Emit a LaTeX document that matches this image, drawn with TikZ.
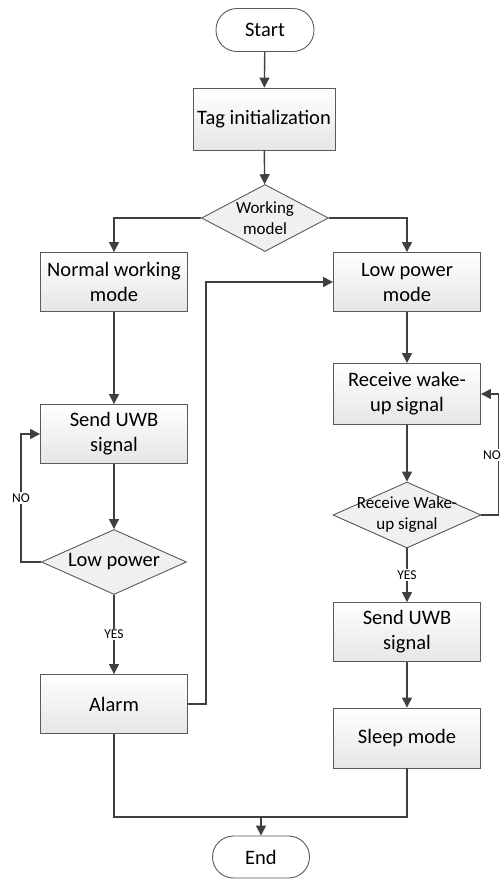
\documentclass[tikz,border=0pt]{standalone}
\usepackage{fontspec}
\setmainfont{Carlito}
\usetikzlibrary{shapes.geometric,arrows.meta}
\definecolor{edge}{HTML}{404040}
\definecolor{bord}{HTML}{5A5A5A}
\tikzset{
  box/.style={rectangle, draw=bord, line width=0.9pt, top color=white, bottom color=black!10,
    minimum width=147pt, minimum height=59pt, inner sep=2pt, align=center, font=\fontsize{20.5}{25}\selectfont},
  dec/.style={diamond, draw=bord, line width=0.9pt, fill=black!6, inner sep=0pt, aspect=2,
    align=center, font=\fontsize{17}{21}\selectfont},
  dectext/.style={align=center, inner sep=0pt, font=\fontsize{17}{21}\selectfont},
  term/.style={rectangle, rounded corners=21pt, draw=bord, line width=0.9pt, fill=white,
    minimum width=98pt, minimum height=43pt, font=\fontsize{20.5}{25}\selectfont},
  conn/.style={draw=edge, line width=1.4pt},
  arr/.style={conn, -{Triangle[length=10pt,width=10pt]}},
  lab/.style={fill=white, inner sep=1.5pt, font=\fontsize{13.5}{16}\selectfont}
}
\begin{document}
\begin{tikzpicture}[x=1pt,y=-1pt]
\useasboundingbox (0,0) rectangle (502,879);
\node[term] (start) at (265,30) {Start};
\node[box, minimum width=142pt, minimum height=62pt] (tag) at (264,119) {Tag initialization};
\node[dec, minimum width=127pt, minimum height=67pt] (wm) at (265,218) {Working\\model};
\node[box] (nwm) at (114,282) {Normal working\\mode};
\node[box] (lpm) at (407,282) {Low power\\mode};
\node[box] (sendL) at (114,434) {Send UWB\\signal};
\node[dec, minimum width=145pt, minimum height=65pt, font=\fontsize{20.5}{25}\selectfont] (lowp) at (114,562) {Low power};
\node[box] (alarm) at (114,704) {Alarm};
\node[box, minimum height=61pt] (rws) at (407,394) {Receive wake-\\up signal};
\node[dec, minimum width=148pt, minimum height=66pt] (rwd) at (407,515) {};
\node[dectext] (rwdtext) at (rwd.center) {Receive Wake-\\up signal};
\node[box] (sendR) at (407,632) {Send UWB\\signal};
\node[box, minimum height=60pt] (sleep) at (407,738) {Sleep mode};
\node[term, minimum width=97pt, minimum height=42pt] (end) at (261,857) {End};
\coordinate (merge) at (261,817);
\coordinate (noR) at (502,455);

\draw[arr] (start) -- (tag);
\draw[arr] (tag) -- (wm);
\draw[arr] (wm.west) -| (nwm.north);
\draw[arr] (wm.east) -| (lpm.north);
\draw[arr] (nwm) -- (sendL);
\draw[arr] (sendL) -- (lowp);
\draw[arr] (lowp.west) -- ++(-20,0) |- (sendL.west) node[lab, pos=0.25] {NO};
\draw[arr] (lowp) -- (alarm) node[lab, midway] {YES};
\draw[arr] (alarm.east) -- ++(18,0) |- (lpm.west);
\draw[arr] (lpm) -- (rws);
\draw[arr] (rws) -- (rwd);
\draw[arr] (rwd.east) -- ++(17,0) |- (rws.east);
\node[lab, anchor=east, inner xsep=1pt] (nolab) at (noR) {NO};
\draw[arr] (rwd) -- (sendR) node[lab, midway] {YES};
\draw[arr] (sendR) -- (sleep);
\draw[conn] (alarm.south) |- (merge) -| (sleep.south);
\draw[arr] (merge) -- (end.north);
\end{tikzpicture}
\end{document}
